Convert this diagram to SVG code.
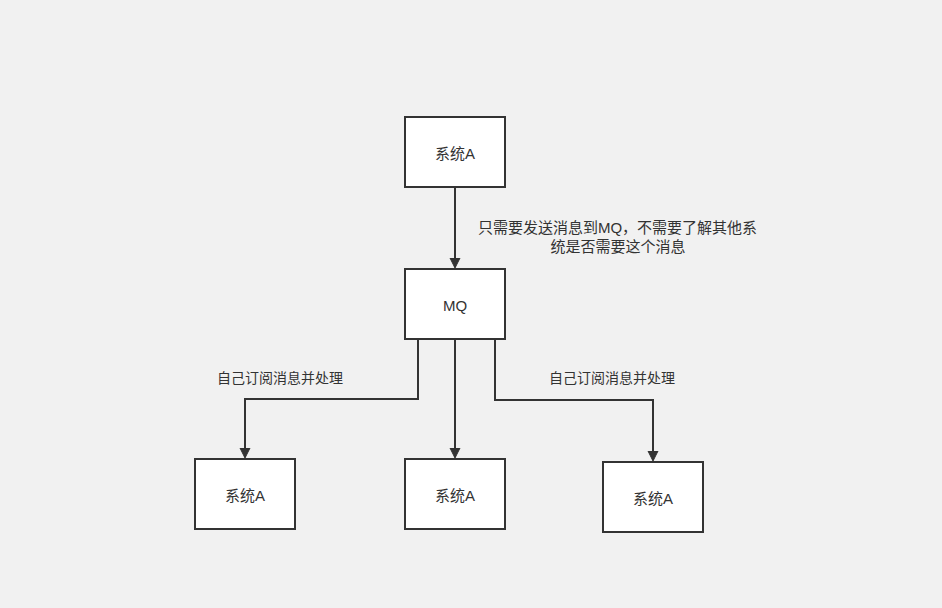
<svg xmlns="http://www.w3.org/2000/svg" width="942" height="608" viewBox="0 0 942 608">
  <style>
    .box { fill: #ffffff; stroke: #333333; stroke-width: 2; }
    .lbl { font-family: "Liberation Sans", "Noto Sans CJK SC", sans-serif; font-size: 15px; fill: #333333; text-anchor: middle; dominant-baseline: central; }
    .edge { fill: none; stroke: #333333; stroke-width: 2; marker-end: url(#arrow); }
    .note { font-family: "Liberation Sans", "Noto Sans CJK SC", sans-serif; font-size: 14px; fill: #333333; text-anchor: middle; dominant-baseline: central; }
    .note-lg { font-size: 15px; }
  </style>
  <defs>
    <marker id="arrow" markerWidth="10" markerHeight="12" refX="9" refY="5" orient="auto" markerUnits="userSpaceOnUse" viewBox="0 0 10 10">
      <path d="M0,0 L10,5 L0,10 Z" fill="#333333" stroke="#333333" stroke-width="1"/>
    </marker>
  </defs>
  <rect width="942" height="608" fill="#f1f1f1"/>

  <g id="connectors">
    <path class="edge" d="M455,187 L455,267"/>
    <path class="edge" d="M418,339 L418,399 L245,399 L245,457"/>
    <path class="edge" d="M455,339 L455,457"/>
    <path class="edge" d="M495,339 L495,400 L653,400 L653,460"/>
    <text class="note note-lg" x="617.5" y="227">只需要发送消息到MQ，不需要了解其他系</text>
    <text class="note note-lg" x="618" y="246">统是否需要这个消息</text>
    <text class="note" x="280" y="378">自己订阅消息并处理</text>
    <text class="note" x="612" y="378">自己订阅消息并处理</text>
  </g>

  <g id="node-sender">
    <rect class="box" x="405" y="117" width="100" height="70"/>
    <text class="lbl" x="455" y="153">系统A</text>
  </g>
  <g id="node-mq">
    <rect class="box" x="405" y="269" width="100" height="70"/>
    <text class="lbl" x="455" y="305">MQ</text>
  </g>
  <g id="node-sub-left">
    <rect class="box" x="195" y="459" width="100" height="70"/>
    <text class="lbl" x="245" y="495">系统A</text>
  </g>
  <g id="node-sub-middle">
    <rect class="box" x="405" y="459" width="100" height="70"/>
    <text class="lbl" x="455" y="495">系统A</text>
  </g>
  <g id="node-sub-right">
    <rect class="box" x="603" y="462" width="100" height="70"/>
    <text class="lbl" x="653" y="498">系统A</text>
  </g>
</svg>
